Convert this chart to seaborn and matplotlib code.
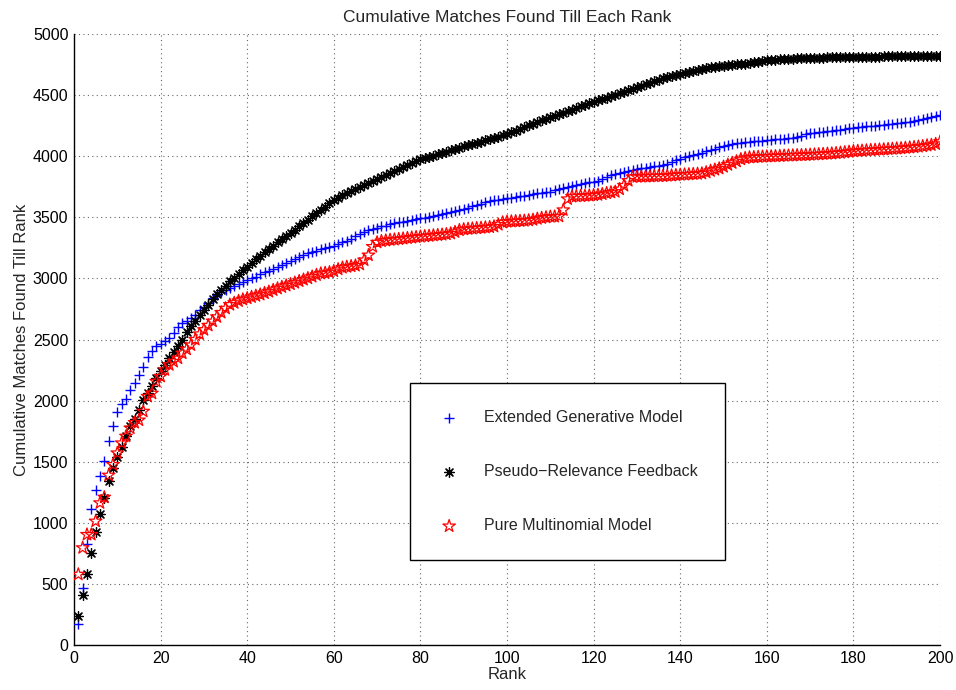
import numpy as np
import pandas as pd
import matplotlib
matplotlib.use("Agg")
import matplotlib.pyplot as plt
from matplotlib.ticker import MultipleLocator
import seaborn as sns

# Cumulative number of matches found up to each rank (ranks 1..200)
ranks = list(range(1, 201))

extended_generative = [
    169, 468, 823, 1109, 1272, 1381, 1503, 1672, 1795, 1904,
    1972, 2015, 2089, 2143, 2211, 2274, 2361, 2402, 2443, 2462,
    2484, 2511, 2552, 2606, 2633, 2650, 2672, 2700, 2740, 2765,
    2800, 2840, 2866, 2885, 2905, 2920, 2935, 2952, 2970, 2987,
    3000, 3015, 3035, 3050, 3062, 3080, 3095, 3108, 3125, 3145,
    3160, 3178, 3192, 3205, 3218, 3228, 3238, 3248, 3258, 3268,
    3280, 3295, 3310, 3325, 3345, 3365, 3380, 3395, 3405, 3415,
    3425, 3432, 3445, 3452, 3458, 3465, 3472, 3478, 3485, 3491,
    3497, 3505, 3512, 3518, 3525, 3532, 3540, 3548, 3556, 3565,
    3578, 3590, 3600, 3612, 3622, 3630, 3638, 3645, 3650, 3655,
    3660, 3666, 3672, 3678, 3685, 3690, 3695, 3700, 3705, 3710,
    3720, 3730, 3742, 3750, 3758, 3765, 3772, 3778, 3785, 3791,
    3800, 3815, 3830, 3845, 3858, 3866, 3874, 3882, 3890, 3896,
    3902, 3907, 3912, 3917, 3922, 3928, 3940, 3952, 3965, 3978,
    3990, 4000, 4010, 4020, 4030, 4040, 4048, 4060, 4072, 4082,
    4090, 4098, 4105, 4110, 4114, 4118, 4121, 4125, 4128, 4132,
    4135, 4138, 4141, 4144, 4147, 4150, 4155, 4165, 4180, 4188,
    4192, 4196, 4199, 4203, 4208, 4213, 4218, 4222, 4227, 4232,
    4236, 4240, 4244, 4247, 4250, 4254, 4258, 4262, 4266, 4270,
    4274, 4278, 4284, 4290, 4296, 4302, 4315, 4325, 4333, 4341,
]

pseudo_relevance = [
    237, 409, 583, 754, 923, 1073, 1204, 1346, 1449, 1536,
    1618, 1708, 1789, 1852, 1926, 2002, 2062, 2116, 2184, 2239,
    2293, 2347, 2400, 2450, 2500, 2560, 2610, 2655, 2700, 2742,
    2785, 2828, 2870, 2905, 2940, 2975, 3005, 3037, 3068, 3097,
    3125, 3155, 3185, 3213, 3240, 3268, 3295, 3320, 3345, 3370,
    3398, 3426, 3453, 3480, 3508, 3535, 3562, 3588, 3614, 3640,
    3660, 3680, 3700, 3718, 3735, 3752, 3768, 3783, 3797, 3810,
    3827, 3844, 3862, 3879, 3895, 3911, 3927, 3943, 3959, 3975,
    3985, 3995, 4005, 4015, 4025, 4036, 4047, 4058, 4069, 4080,
    4090, 4100, 4110, 4120, 4130, 4140, 4150, 4160, 4170, 4182,
    4196, 4210, 4225, 4240, 4253, 4266, 4280, 4294, 4307, 4320,
    4332, 4345, 4357, 4370, 4382, 4395, 4408, 4420, 4433, 4445,
    4457, 4468, 4480, 4492, 4504, 4516, 4528, 4540, 4552, 4564,
    4576, 4588, 4600, 4612, 4624, 4636, 4648, 4658, 4667, 4676,
    4684, 4692, 4700, 4707, 4714, 4720, 4726, 4731, 4735, 4739,
    4743, 4747, 4751, 4755, 4758, 4762, 4768, 4775, 4780, 4786,
    4789, 4791, 4793, 4795, 4797, 4799, 4800, 4801, 4803, 4804,
    4805, 4806, 4807, 4808, 4809, 4810, 4811, 4812, 4813, 4814,
    4814, 4815, 4815, 4816, 4816, 4816, 4817, 4817, 4817, 4818,
    4818, 4818, 4818, 4819, 4819, 4819, 4819, 4820, 4820, 4820,
]

pure_multinomial = [
    578, 795, 904, 904, 1013, 1163, 1209, 1389, 1476, 1571,
    1653, 1708, 1775, 1820, 1840, 1912, 2034, 2060, 2157, 2198,
    2252, 2293, 2320, 2347, 2388, 2420, 2455, 2500, 2545, 2580,
    2615, 2650, 2685, 2720, 2755, 2785, 2800, 2815, 2828, 2838,
    2848, 2858, 2868, 2880, 2892, 2905, 2918, 2930, 2942, 2953,
    2965, 2978, 2990, 3002, 3015, 3028, 3040, 3045, 3050, 3060,
    3075, 3088, 3095, 3100, 3105, 3115, 3150, 3190, 3260, 3295,
    3305, 3310, 3315, 3318, 3322, 3326, 3330, 3334, 3338, 3342,
    3345, 3348, 3352, 3355, 3358, 3362, 3368, 3380, 3395, 3402,
    3405, 3408, 3411, 3414, 3417, 3420, 3425, 3440, 3458, 3464,
    3466, 3468, 3470, 3472, 3475, 3480, 3488, 3495, 3500, 3505,
    3506, 3508, 3560, 3650, 3670, 3672, 3674, 3676, 3678, 3681,
    3684, 3690, 3698, 3704, 3709, 3730, 3760, 3800, 3830, 3832,
    3833, 3834, 3835, 3836, 3837, 3838, 3840, 3842, 3845, 3848,
    3850, 3852, 3854, 3856, 3859, 3868, 3880, 3890, 3900, 3914,
    3930, 3945, 3958, 3975, 3985, 3990, 3992, 3994, 3996, 3998,
    3999, 4000, 4002, 4004, 4005, 4006, 4008, 4009, 4010, 4012,
    4014, 4016, 4018, 4020, 4022, 4025, 4028, 4032, 4036, 4041,
    4043, 4045, 4047, 4050, 4052, 4054, 4056, 4058, 4060, 4063,
    4065, 4068, 4071, 4074, 4078, 4082, 4088, 4092, 4100, 4118,
]

series_names = [
    "Extended Generative Model",
    "Pseudo\u2212Relevance Feedback",
    "Pure Multinomial Model",
]

x_ticks = list(range(0, 201, 20))
y_ticks = list(range(0, 5001, 500))

sns.set_style("white")
plt.rcParams["font.family"] = ["Liberation Sans", "DejaVu Sans"]

fig = plt.figure(figsize=(9.56, 6.90), dpi=100)
ax = fig.add_axes([0.0774, 0.0652, 0.9059, 0.8855])

df = pd.DataFrame({"rank": ranks,
                   "egm": extended_generative,
                   "prf": pseudo_relevance,
                   "pmm": pure_multinomial})

sns.scatterplot(data=df, x="rank", y="egm", ax=ax, marker="+", s=55,
                color="#0000ff", linewidth=1.0, label=series_names[0],
                zorder=3)
sns.scatterplot(data=df, x="rank", y="prf", ax=ax, marker=(8, 2, 0), s=50,
                color="black", linewidth=0.9, label=series_names[1],
                zorder=3)
sns.scatterplot(data=df, x="rank", y="pmm", ax=ax, marker="*", s=90,
                facecolor="none", edgecolor="#ff0000", linewidth=0.9,
                label=series_names[2], zorder=3)

ax.set_xlim(0, 200)
ax.set_ylim(0, 5000)
ax.set_xticks(x_ticks)
ax.set_yticks(y_ticks)
ax.xaxis.set_minor_locator(MultipleLocator(2))

ax.grid(True, which="major", linestyle=(0, (1, 3)), linewidth=0.8,
        color="0.4")
ax.set_axisbelow(True)

for side in ("top", "right"):
    ax.spines[side].set_visible(False)
for side in ("left", "bottom"):
    ax.spines[side].set_color("black")
    ax.spines[side].set_linewidth(1.0)

ax.tick_params(axis="both", which="major", direction="in", length=5,
               width=1.0, labelsize=11.5, colors="black", pad=4)
ax.tick_params(axis="x", which="minor", direction="in", length=2.5,
               width=0.8, colors="black")
ax.tick_params(top=False, right=False, which="both")

ax.set_title("Cumulative Matches Found Till Each Rank", fontsize=12.5,
             pad=9)
ax.set_xlabel("Rank", fontsize=12, labelpad=1)
ax.set_ylabel("Cumulative Matches Found Till Rank", fontsize=12,
              labelpad=3)

leg = ax.legend(loc="upper left", bbox_to_anchor=(0.388, 0.429),
                fontsize=11.5, frameon=True, fancybox=False,
                borderpad=1.7, labelspacing=2.45, handlelength=1.5,
                handletextpad=1.45, scatterpoints=1, borderaxespad=0)
leg.get_frame().set_edgecolor("black")
leg.get_frame().set_linewidth(1.0)
leg.get_frame().set_alpha(1.0)

fig.savefig("out.png", dpi=100)
